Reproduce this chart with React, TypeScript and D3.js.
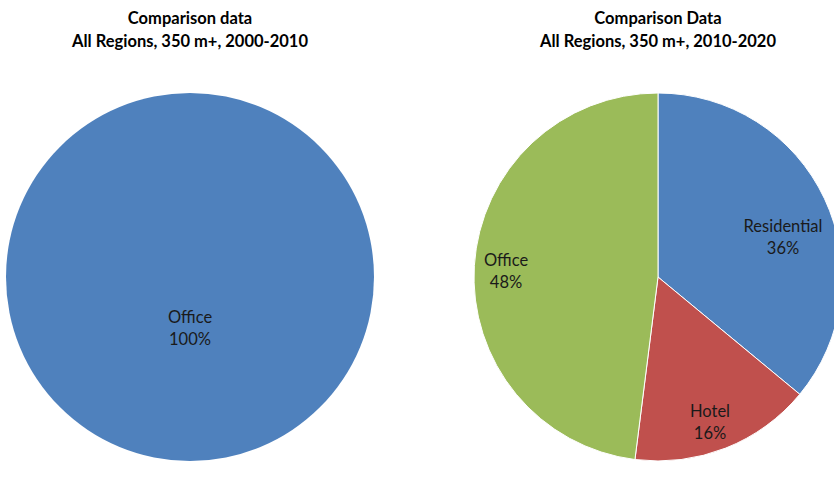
import React from "react";
import * as d3 from "d3";

const leftTitle = ["Comparison data", "All Regions, 350 m+, 2000-2010"];
const rightTitle = ["Comparison Data", "All Regions, 350 m+, 2010-2020"];
const leftCategories = ["Office"];
const leftValues = [100];
const rightCategories = ["Residential", "Hotel", "Office"];
const rightValues = [36, 16, 48];
const colorMap: Record<string, string> = {
  Office: "#4F81BD",
};
const rightColors = ["#4F81BD", "#C0504D", "#9BBB59"];

const W = 834;
const H = 500;
const R = 184;
const font = "Lato, 'Open Sans', sans-serif";

type PieProps = {
  cx: number;
  cy: number;
  cats: string[];
  vals: number[];
  colors: string[];
  labelPos: [number, number][];
  title: string[];
};

function Pie({ cx, cy, cats, vals, colors, labelPos, title }: PieProps) {
  const data = cats.map((c, i) => ({ c, v: vals[i], color: colors[i] }));
  const pie = d3.pie<any>().value((d) => d.v).sort(null);
  const arcs = pie(data);
  const arc = d3.arc<any>().innerRadius(0).outerRadius(R);
  const total = d3.sum(vals);
  return (
    <g>
      <text x={cx} y={24} textAnchor="middle" fontFamily={font} fontWeight="bold" fontSize={16.5} fill="#000">
        {title[0]}
      </text>
      <text x={cx} y={47} textAnchor="middle" fontFamily={font} fontWeight="bold" fontSize={16.5} fill="#000">
        {title[1]}
      </text>
      <g transform={`translate(${cx},${cy})`}>
        {arcs.map((a, i) => (
          <path key={i} d={arc(a) as string} fill={a.data.color} stroke="#fff" strokeWidth={arcs.length > 1 ? 1 : 0} />
        ))}
        {arcs.map((a, i) => {
          const [lx, ly] = labelPos[i];
          return (
            <g key={"l" + i} fontFamily={font} fontSize={16.5} fill="#1a1a1a" textAnchor="middle">
              <text x={lx} y={ly}>{a.data.c}</text>
              <text x={lx} y={ly + 22}>{Math.round((a.data.v / total) * 100)}%</text>
            </g>
          );
        })}
      </g>
    </g>
  );
}

export default function App() {
  return (
    <svg width={W} height={H} style={{ position: "absolute", left: 0, top: 0, background: "#fff" }}>
      <rect width={W} height={H} fill="#fff" />
      <Pie
        cx={190}
        cy={277}
        cats={leftCategories}
        vals={leftValues}
        colors={leftCategories.map((c) => colorMap[c])}
        labelPos={[[0, 46]]}
        title={leftTitle}
      />
      <Pie
        cx={658}
        cy={277}
        cats={rightCategories}
        vals={rightValues}
        colors={rightColors}
        labelPos={[[125, -45], [52, 140], [-152, -11]]}
        title={rightTitle}
      />
    </svg>
  );
}
